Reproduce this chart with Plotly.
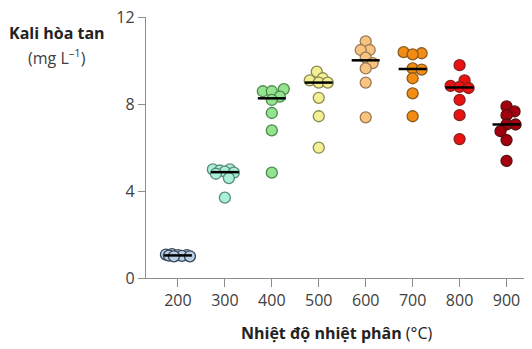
import numpy as np
import plotly.graph_objects as go

temps = [200, 300, 400, 500, 600, 700, 800, 900]
values = {
    200: [1.10, 1.08, 1.05, 1.05, 1.03, 1.02, 1.00, 1.00],
    300: [5.00, 5.00, 4.95, 4.90, 4.85, 4.80, 4.60, 3.70],
    400: [8.70, 8.60, 8.60, 8.35, 8.20, 7.60, 6.80, 4.85],
    500: [9.50, 9.20, 9.10, 9.00, 9.00, 8.30, 7.45, 6.00],
    600: [10.90, 10.50, 10.50, 10.15, 9.90, 9.65, 9.00, 7.40],
    700: [10.40, 10.35, 10.30, 9.65, 9.60, 9.20, 8.50, 7.45],
    800: [9.80, 9.10, 8.85, 8.80, 8.75, 8.20, 7.50, 6.40],
    900: [7.90, 7.67, 7.50, 7.07, 7.07, 6.76, 6.35, 5.39],
}
fill_colors = ["#b9cde3", "#a9f0da", "#93e38f", "#f3ef95", "#f9c47f",
               "#f38c12", "#ea1111", "#a3000f"]
edge_colors = ["#37475a", "#5a8a7a", "#4e8a4e", "#8a8a4e", "#9a7a55",
               "#8a5a20", "#8a2020", "#5a1010"]
tick_vals = [0, 4, 8, 12]

# page has an 8px body margin, so figure coords = page coords - 8
OFF = 8
W, H = 532 - OFF, 349 - OFF
ML, MT = 146 - OFF, 17 - OFF
MR = W - (530 - OFF)
MB = H - (278 - OFF)
x_range = [132, 950]
y_range = [0, 12.02]
px_per_x = (W - ML - MR) / (x_range[1] - x_range[0])
px_per_y = (H - MT - MB) / (y_range[1] - y_range[0])
MSIZE = 11


def swarm(vals, min_dist=8.5, max_off=12.0):
    """Simple beeswarm with limited width: returns horizontal pixel offsets."""
    vals = np.asarray(vals, dtype=float)
    med = np.median(vals)
    order = np.argsort(np.abs(vals - med))
    placed = []
    offs = np.zeros(len(vals))
    cands = [0.0]
    k = 1
    while k <= max_off:
        cands += [float(k), -float(k)]
        k += 1
    for i in order:
        y = vals[i] * px_per_y
        best_c, best_d = 0.0, -1.0
        chosen = None
        for c in cands:
            d = min([np.hypot(c - px, y - py) for (px, py) in placed] or [1e9])
            if d >= min_dist:
                chosen = c
                break
            if d > best_d:
                best_d, best_c = d, c
        if chosen is None:
            chosen = best_c
        offs[i] = chosen
        placed.append((chosen, y))
    return offs


fig = go.Figure()
for t, fc, ec in zip(temps, fill_colors, edge_colors):
    v = values[t]
    offs = swarm(v)
    xs = [t + o / px_per_x for o in offs]
    fig.add_trace(go.Scatter(
        x=xs, y=v, mode="markers",
        marker=dict(size=MSIZE, color=fc, line=dict(color=ec, width=1.3)),
        cliponaxis=False, showlegend=False, hoverinfo="y"))

for t in temps:
    m = float(np.median(values[t]))
    half = 14 / px_per_x
    fig.add_trace(go.Scatter(
        x=[t - half, t + half], y=[m, m], mode="lines",
        line=dict(color="black", width=2.5),
        cliponaxis=False, showlegend=False, hoverinfo="skip"))

ann = [
    ("<b>Kali hòa tan</b>", 57, 33, 16, "#222222"),
    ("(mg L<sup>–1</sup>)", 57, 57, 16, "#404040"),
    ("<b>Nhiệt độ nhiệt phân</b> (°C)", 337, 333, 16, "#222222"),
]
pw, ph = W - ML - MR, H - MT - MB
annotations = []
for text, px, py, size, col in ann:
    annotations.append(dict(
        text=text, x=(px - OFF - ML) / pw, y=(H - MB - (py - OFF)) / ph,
        xref="paper", yref="paper", xanchor="center", yanchor="middle",
        showarrow=False, font=dict(size=size, color=col)))

fig.update_layout(
    width=W, height=H,
    margin=dict(l=ML, r=MR, t=MT, b=MB),
    paper_bgcolor="white", plot_bgcolor="white",
    font=dict(family="Open Sans", color="#404040"),
    xaxis=dict(range=x_range, tickvals=temps, ticktext=[str(t) for t in temps],
               showgrid=False, zeroline=False, showline=True,
               linecolor="#8c8c8c", linewidth=1.3,
               ticks="outside", ticklen=8, tickcolor="#8c8c8c", tickwidth=1.3,
               tickfont=dict(size=16, color="#404040"), automargin=False,
               ticklabeloverflow="allow"),
    yaxis=dict(range=y_range, tickvals=tick_vals,
               ticktext=[str(v) for v in tick_vals],
               showgrid=False, zeroline=False, showline=True,
               linecolor="#8c8c8c", linewidth=1.3,
               ticks="outside", ticklen=7, tickcolor="#8c8c8c", tickwidth=1.3,
               tickfont=dict(size=16, color="#404040"), automargin=False,
               ticklabeloverflow="allow"),
    annotations=annotations,
)

fig.write_html("out.html")
